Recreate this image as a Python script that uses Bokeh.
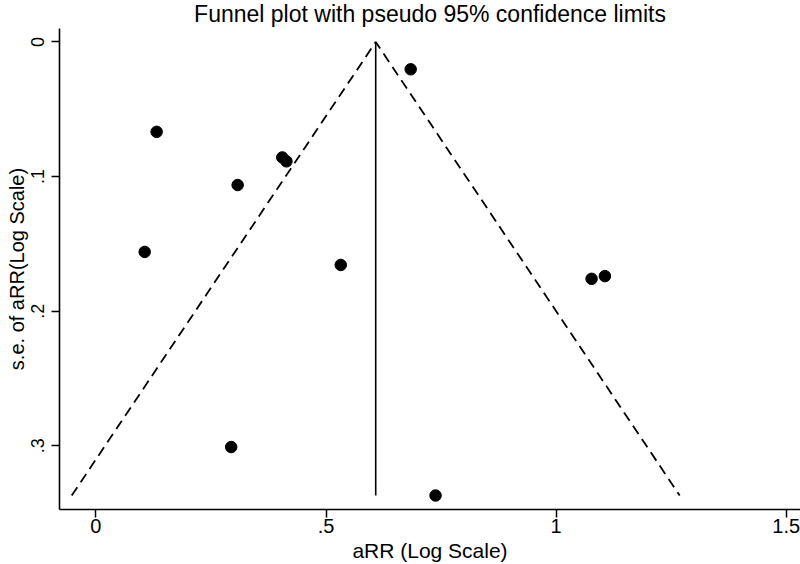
from bokeh.plotting import figure
from bokeh.models import Range1d, FixedTicker, ColumnDataSource
from bokeh.embed import file_html
from bokeh.resources import INLINE

# Study estimates: aRR on log scale and their standard errors
log_arr = [0.684, 0.132, 0.405, 0.414, 0.308, 0.106, 0.532, 1.077, 1.106, 0.294, 0.738]
se_arr = [0.0203, 0.0668, 0.0858, 0.0887, 0.1063, 0.156, 0.1657, 0.176, 0.174, 0.301, 0.337]

pooled = 0.608      # pooled estimate (vertical line)
se_max = 0.337      # bottom of funnel
z95 = 1.96

x_ticks = [0, 0.5, 1, 1.5]
x_tick_labels = ["0", ".5", "1", "1.5"]
y_ticks = [0, 0.1, 0.2, 0.3]
y_tick_labels = ["0", ".1", ".2", ".3"]

FONT = "Liberation Sans"

p = figure(width=800, height=564, output_backend="svg", toolbar_location=None,
           x_range=Range1d(-0.0791, 1.5310), y_range=Range1d(0.3474, -0.0100),
           title="Funnel plot with pseudo 95% confidence limits",
           min_border_left=59, min_border_right=0, min_border_top=28, min_border_bottom=0)
p.background_fill_color = "white"
p.border_fill_color = "white"
p.outline_line_color = None
p.xgrid.visible = False
p.ygrid.visible = False

p.title.text_font = FONT
p.title.text_font_size = "23px"
p.title.text_font_style = "normal"
p.title.text_color = "black"
p.title.align = "center"
p.title.vertical_align = "top"
p.title.standoff = 0

# funnel limits
p.line([pooled - z95 * se_max, pooled, pooled + z95 * se_max], [se_max, 0, se_max],
       line_color="black", line_width=1.8, line_dash="10 6")
p.line([pooled, pooled], [0, se_max], line_color="black", line_width=1.6)

src = ColumnDataSource(dict(x=log_arr, y=se_arr))
p.scatter("x", "y", source=src, size=11.5, fill_color="black", line_color="black")

for ax in (p.xaxis[0], p.yaxis[0]):
    ax.axis_line_color = "black"
    ax.axis_line_width = 1.6
    ax.major_tick_line_color = "black"
    ax.major_tick_line_width = 1.5
    ax.major_tick_out = 8
    ax.major_tick_in = 0
    ax.minor_tick_line_color = None
    ax.major_label_text_font = FONT
    ax.major_label_text_color = "black"
    ax.axis_label_text_font = FONT
    ax.axis_label_text_color = "black"
    ax.axis_label_text_font_style = "normal"

p.xaxis.ticker = FixedTicker(ticks=x_ticks)
p.xaxis.major_label_overrides = dict(zip(x_ticks, x_tick_labels))
p.xaxis.axis_label = "aRR (Log Scale)"
p.xaxis.major_label_text_font_size = "20px"
p.xaxis.axis_label_text_font_size = "21px"
p.xaxis.major_label_standoff = 1
p.xaxis.axis_label_standoff = 3

p.yaxis.ticker = FixedTicker(ticks=y_ticks)
p.yaxis.major_label_overrides = dict(zip(y_ticks, y_tick_labels))
p.yaxis.axis_label = "s.e. of aRR(Log Scale)"
p.yaxis.major_label_orientation = "vertical"
p.yaxis.major_label_text_font_size = "18px"
p.yaxis.axis_label_text_font_size = "20px"
p.yaxis.major_label_standoff = 7
p.yaxis.axis_label_standoff = 1

open("out.html", "w").write(file_html(p, INLINE))
